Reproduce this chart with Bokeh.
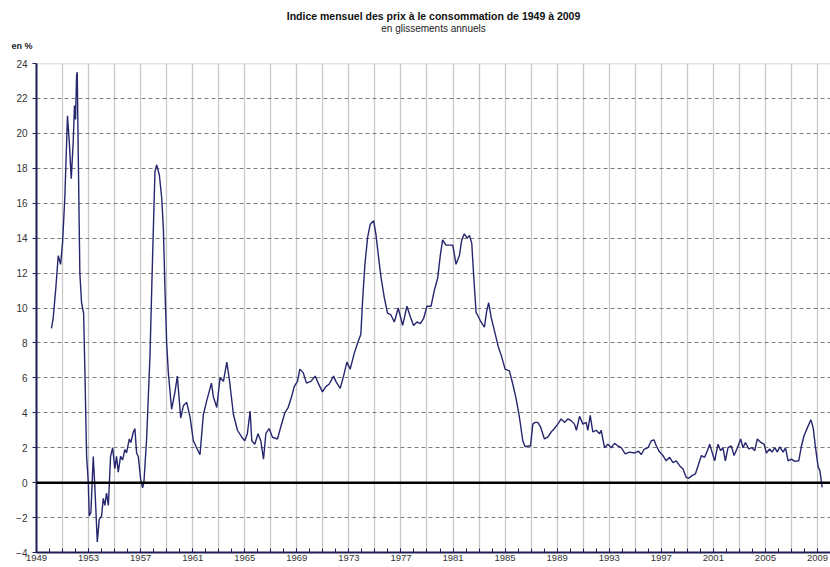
from bokeh.plotting import figure
from bokeh.models import FixedTicker, Span, Title, ColumnDataSource
from bokeh.embed import file_html
from bokeh.resources import INLINE

# ---- data ----
title_text = "Indice mensuel des prix à le consommation de 1949 à 2009"
subtitle_text = "en glissements annuels"
unit_text = "en %"

years = [
    1950.15, 1950.28, 1950.48, 1950.67, 1950.85, 1951.0, 1951.18, 1951.38, 1951.52, 1951.67,
    1951.82, 1951.92, 1952.0, 1952.08, 1952.13, 1952.21, 1952.33, 1952.46, 1952.62, 1952.72,
    1952.85, 1952.98, 1953.05, 1953.18, 1953.36, 1953.48, 1953.67, 1953.82, 1954.0, 1954.13,
    1954.25, 1954.38, 1954.52, 1954.69, 1954.85, 1955.02, 1955.15, 1955.28, 1955.46, 1955.62,
    1955.79, 1955.92, 1956.13, 1956.25, 1956.44, 1956.56, 1956.69, 1956.82, 1957.0, 1957.15,
    1957.25, 1957.46, 1957.72, 1957.92, 1958.1, 1958.23, 1958.44, 1958.62, 1958.75, 1958.87,
    1959.0, 1959.13, 1959.38, 1959.64, 1959.82, 1960.08, 1960.28, 1960.54,
    1960.8, 1961.05, 1961.3, 1961.56, 1961.82, 1962.08, 1962.44, 1962.59, 1962.85, 1963.1,
    1963.36, 1963.62, 1963.8, 1964.13, 1964.44, 1964.77, 1965.0, 1965.2, 1965.41, 1965.54,
    1965.77, 1966.02, 1966.23, 1966.44, 1966.62, 1966.87, 1967.13, 1967.51, 1967.77, 1968.08,
    1968.33, 1968.59, 1968.8, 1969.05, 1969.23, 1969.49, 1969.74, 1970.08, 1970.41, 1970.64,
    1970.97, 1971.23, 1971.49, 1971.82, 1972.0, 1972.33, 1972.59, 1972.85, 1973.1, 1973.41,
    1973.67, 1973.92, 1974.05, 1974.23, 1974.44, 1974.64, 1974.9, 1975.08, 1975.28, 1975.46,
    1975.72, 1975.97, 1976.23, 1976.49, 1976.79,
    1977.13, 1977.46, 1977.72, 1977.97, 1978.23, 1978.49, 1978.74, 1979.0, 1979.31, 1979.56,
    1979.82, 1980.02, 1980.2, 1980.46, 1980.79, 1980.98, 1981.23, 1981.49, 1981.67, 1981.87,
    1982.08, 1982.26, 1982.44, 1982.59, 1982.77, 1982.95, 1983.15, 1983.41, 1983.59, 1983.74,
    1983.92, 1984.18, 1984.49, 1984.74, 1985.0, 1985.33, 1985.59, 1985.85, 1986.1, 1986.36,
    1986.54, 1986.79, 1986.95, 1987.13, 1987.31, 1987.51, 1987.72, 1988.02, 1988.28, 1988.54,
    1988.79, 1989.05, 1989.31, 1989.56, 1989.82, 1990.08, 1990.33, 1990.48, 1990.72, 1990.98,
    1991.23, 1991.36, 1991.54, 1991.74, 1992.0, 1992.26,
    1992.38, 1992.64, 1992.9, 1993.15, 1993.41, 1993.67, 1993.92, 1994.23, 1994.56, 1994.95,
    1995.26, 1995.46, 1995.67, 1995.98, 1996.23, 1996.44, 1996.62, 1996.87, 1997.13, 1997.38,
    1997.64, 1997.9, 1998.15, 1998.41, 1998.67, 1998.92, 1999.1, 1999.36, 1999.62, 1999.87,
    2000.08, 2000.33, 2000.54, 2000.72, 2000.9, 2001.1, 2001.36, 2001.56, 2001.74, 2001.92,
    2002.13, 2002.38, 2002.59, 2002.85, 2003.1, 2003.28, 2003.46, 2003.72, 2003.97, 2004.18,
    2004.38, 2004.64, 2004.9, 2005.08, 2005.33, 2005.51, 2005.72, 2005.92, 2006.1, 2006.36,
    2006.54, 2006.74, 2007.0, 2007.26, 2007.56, 2007.77, 2007.97, 2008.23, 2008.49, 2008.67,
    2008.85, 2009.05, 2009.18, 2009.36,
]

cpi = [
    8.84, 9.4, 11.1, 13.0, 12.5, 13.7, 16.4, 21.0, 19.5, 17.4,
    19.5, 21.6, 20.8, 23.3, 23.5, 18.7, 12.0, 10.3, 9.7, 6.3,
    1.5, 0.0, -1.9, -1.7, 1.5, -0.2, -3.4, -2.1, -1.9, -0.9,
    -1.3, -0.6, -1.3, 1.5, 2.0, 0.8, 1.5, 0.6, 1.5, 1.3,
    1.9, 1.7, 2.5, 2.3, 2.9, 3.1, 1.7, 1.5, 0.2, -0.3,
    0.0, 2.5, 7.3, 13.0, 17.8, 18.2, 17.6, 16.3, 14.5, 11.1,
    8.0, 6.3, 4.2, 5.2, 6.1, 3.7, 4.4, 4.6,
    3.74, 2.4, 2.0, 1.6, 3.9, 4.7, 5.7, 4.9, 4.3, 6.0,
    5.8, 6.9, 6.0, 3.9, 3.0, 2.6, 2.4, 2.8, 4.1, 2.4,
    2.2, 2.8, 2.4, 1.35, 2.8, 3.1, 2.6, 2.5, 3.2, 4.0,
    4.3, 4.9, 5.5, 5.8, 6.5, 6.3, 5.7, 5.8, 6.1, 5.7,
    5.2, 5.5, 5.65, 6.1, 5.8, 5.4, 6.1, 6.9, 6.5, 7.4,
    8.0, 8.5, 10.4, 12.5, 14.05, 14.8, 15.0, 14.2, 12.9, 11.8,
    10.6, 9.7, 9.6, 9.2, 10.0,
    9.0, 10.1, 9.5, 9.0, 9.2, 9.1, 9.4, 10.1, 10.1, 11.0,
    11.7, 13.0, 13.9, 13.6, 13.6, 13.6, 12.5, 13.0, 13.9, 14.25,
    14.0, 14.15, 13.7, 11.8, 9.75, 9.5, 9.2, 8.9, 9.85, 10.3,
    9.5, 8.7, 7.75, 7.2, 6.5, 6.4, 5.65, 4.8, 3.75, 2.4,
    2.06, 2.1, 2.1, 3.35, 3.45, 3.45, 3.2, 2.5, 2.6, 2.9,
    3.1, 3.35, 3.65, 3.45, 3.65, 3.55, 3.35, 3.0, 3.8, 3.35,
    3.45, 3.0, 3.85, 2.9, 3.0, 2.8,
    3.0, 2.0, 2.2, 2.0, 2.25, 2.1, 2.0, 1.65, 1.75, 1.7,
    1.8, 1.6, 1.9, 2.0, 2.4, 2.45, 2.1, 1.75, 1.55, 1.25,
    1.45, 1.15, 1.25, 0.97, 0.78, 0.3, 0.25, 0.4, 0.5, 1.07,
    1.55, 1.45, 1.83, 2.2, 1.75, 1.25, 2.2, 1.83, 2.0, 1.25,
    2.0, 2.1, 1.55, 2.0, 2.5, 2.0, 2.3, 1.93, 2.0, 1.83,
    2.5, 2.3, 2.2, 1.7, 1.93, 1.75, 2.0, 1.75, 2.05, 1.75,
    2.0, 1.25, 1.35, 1.22, 1.25, 2.1, 2.7, 3.15, 3.6, 3.15,
    2.0, 0.9, 0.7, -0.27,
]

x_label_years = list(range(1949, 2010, 4))
x_minor_years = list(range(1949, 2010, 1))
x_grid_years = list(range(1951, 2010, 2))
y_ticks = list(range(-4, 25, 2))
y_grid_ticks = [t for t in range(-2, 23, 2) if t != 0]

# ---- figure ----
FONT = "Liberation Sans"
NAVY = "#1e1e55"

p = figure(
    width=830, height=567,
    x_range=(1949, 2010), y_range=(-4, 24),
    output_backend="svg", toolbar_location=None, title=None,
    min_border_left=36, min_border_right=0, min_border_top=63, min_border_bottom=15,
    background_fill_color="white", border_fill_color="white",
)
p.outline_line_color = None

# titles (first added = closest to the frame)
p.add_layout(Title(text=unit_text, align="left", offset=-25, standoff=25,
                   text_font=FONT, text_font_size="9px", text_font_style="bold",
                   text_color="#222222"), "above")
p.add_layout(Title(text=subtitle_text, align="center", standoff=-14,
                   text_font=FONT, text_font_size="10px", text_font_style="normal",
                   text_color="#222222"), "above")
p.add_layout(Title(text=title_text, align="center", standoff=10,
                   text_font=FONT, text_font_size="10.5px", text_font_style="bold",
                   text_color="#111111"), "above")

# axes
p.xaxis.ticker = FixedTicker(ticks=x_label_years, minor_ticks=x_minor_years)
p.xaxis.axis_line_color = NAVY
p.xaxis.axis_line_width = 2
p.xaxis.major_tick_in = 4
p.xaxis.major_tick_out = 0
p.xaxis.minor_tick_in = 4
p.xaxis.minor_tick_out = 0
p.xaxis.major_tick_line_color = NAVY
p.xaxis.minor_tick_line_color = NAVY
p.xaxis.major_label_standoff = 2
p.xaxis.major_label_text_font = FONT
p.xaxis.major_label_text_font_size = "9.5px"
p.xaxis.major_label_text_color = "#333333"

p.yaxis.ticker = FixedTicker(ticks=y_ticks)
p.yaxis.axis_line_color = NAVY
p.yaxis.axis_line_width = 2
p.yaxis.major_tick_in = 0
p.yaxis.major_tick_out = 4
p.yaxis.major_tick_line_color = NAVY
p.yaxis.minor_tick_line_color = None
p.yaxis.major_label_standoff = 5
p.yaxis.major_label_text_font = FONT
p.yaxis.major_label_text_font_size = "10px"
p.yaxis.major_label_text_color = "#333333"

# grids
p.xgrid.ticker = FixedTicker(ticks=x_grid_years)
p.xgrid.grid_line_color = "#c8c8c8"
p.xgrid.grid_line_width = 1.3
p.ygrid.ticker = FixedTicker(ticks=y_grid_ticks)
p.ygrid.grid_line_color = "#7c7c7c"
p.ygrid.grid_line_width = 1
p.ygrid.grid_line_dash = "4 3"

p.add_layout(Span(location=24, dimension="width", line_color="#c8c8c8", line_width=1.5, level="underlay"))

# series
src = ColumnDataSource(data=dict(year=years, value=cpi))
p.line(x="year", y="value", source=src, line_color="#26266e", line_width=1.4)

p.add_layout(Span(location=0, dimension="width", line_color="black", line_width=2.5))

open("out.html", "w").write(file_html(p, INLINE))
